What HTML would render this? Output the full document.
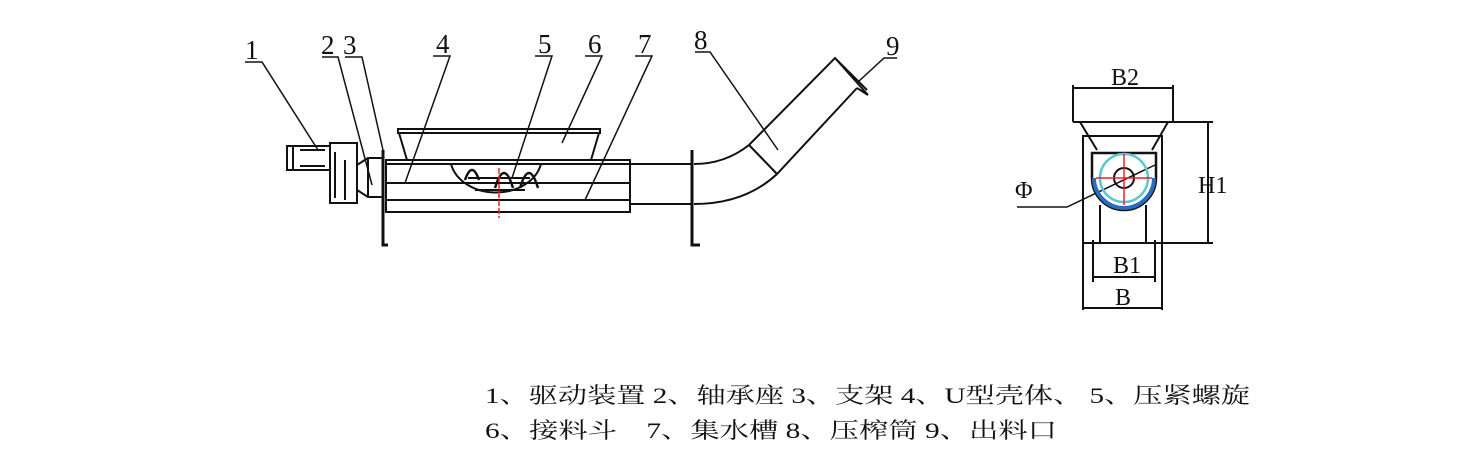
<!DOCTYPE html>
<html><head><meta charset="utf-8"><style>body{margin:0;background:#fff}svg{display:block}</style></head>
<body>
<svg width="1470" height="460" viewBox="0 0 1470 460" xmlns="http://www.w3.org/2000/svg" font-family="Liberation Serif, Noto Serif CJK SC, serif">
<g fill="none" stroke="#111" stroke-width="2">
<!-- motor -->
<rect x="287" y="146" width="43" height="24"/>
<line x1="293" y1="146" x2="293" y2="170"/><line x1="300" y1="150" x2="325" y2="150"/><line x1="300" y1="166" x2="325" y2="166"/>
<rect x="330" y="143" width="27" height="60"/>
<line x1="335" y1="152" x2="335" y2="198"/><line x1="345" y1="160" x2="345" y2="200"/>
<polygon points="357,165 368,158 383,158 383,197 368,197 357,190"/>
<line x1="368" y1="158" x2="368" y2="197"/>
<!-- flange 1 -->
<path d="M383,150 V245 H388" stroke-width="3"/>
<!-- trough -->
<rect x="386" y="160" width="244" height="52"/>
<line x1="386" y1="164" x2="630" y2="164"/>
<line x1="386" y1="183" x2="630" y2="183"/>
<line x1="386" y1="200" x2="630" y2="200"/>
<!-- hopper -->
<rect x="398" y="129" width="202" height="4"/>
<line x1="399" y1="133" x2="407" y2="160"/><line x1="599" y1="133" x2="591" y2="160"/>
<path d="M451,164 A46,36 0 0 0 541,164"/>
<path d="M465,180 q7,-20 14,0 M495,188 q9,-30 18,0 M520,188 q9,-30 18,0" stroke-width="2.5"/>
<line x1="468" y1="178" x2="530" y2="178"/><line x1="475" y1="190" x2="525" y2="190"/>
<!-- pipe -->
<line x1="630" y1="164" x2="692" y2="164"/><line x1="630" y1="204" x2="692" y2="204"/>
<path d="M692,150 V245 H700" stroke-width="3"/>
<path d="M694,164 Q725,164 749,145 L835,58 L867,90 M694,204 Q745,204 777,174 L857,88"/>
<line x1="749" y1="145" x2="777" y2="174"/>
<path d="M835,58 L868,95 L857,88"/>
<!-- leaders -->
<path d="M245,62 H262 L318,150 M322,57 H338 L372,185 M345,57 H362 L383,150 M433,56 H450 L405,183 M535,56 H552 L512,178 M585,56 H602 L562,143 M635,56 H652 L585,200 M695,52 H710 L778,150 M897,58 H884 L858,82" stroke-width="1.5"/>
</g>
<line x1="499" y1="168" x2="499" y2="218" stroke="#e22" stroke-width="1.5" stroke-dasharray="6,2"/>
<g font-size="27" fill="#111">
<text x="245" y="59">1</text><text x="321" y="54">2</text><text x="343" y="54">3</text><text x="436" y="53">4</text><text x="538" y="53">5</text><text x="588" y="53">6</text><text x="638" y="53">7</text><text x="694" y="49">8</text><text x="886" y="55">9</text>
</g>
<!-- side view -->
<g fill="none" stroke="#111" stroke-width="2">
<path d="M1073,85 V122 M1173,85 V122 M1073,88 H1173 M1073,122 H1213"/>
<path d="M1080,122 L1097,150 M1168,122 L1152,150"/>
<path d="M1083,310 V136 H1162 V310"/>
<path d="M1092,153 V178 A32,32 0 0 0 1156,178 V153 Z" stroke-width="2.5"/>
<path d="M1100,205 V243 M1146,205 V243"/>
<path d="M1083,243 H1213 M1208,122 V243 M1093,240 V282 M1155,240 V282 M1093,277 H1155 M1083,308 H1162"/>
<path d="M1017,207 H1067 L1155,165" stroke-width="1.5"/>
</g>
<path d="M1094,178 A30,30 0 0 0 1154,178" fill="none" stroke="#2a6bc0" stroke-width="4"/>
<circle cx="1124" cy="178" r="24" fill="none" stroke="#5cc6d0" stroke-width="2.5"/>
<circle cx="1124" cy="178" r="10" fill="none" stroke="#111" stroke-width="2"/>
<path d="M1096,178 H1152 M1124,154 V205" stroke="#e22" stroke-width="1.5"/>
<g font-size="24" fill="#111">
<text x="1111" y="85">B2</text><text x="1198" y="193">H1</text><text x="1113" y="273">B1</text><text x="1115" y="305">B</text><text x="1015" y="198">Φ</text>
</g>
<g font-size="22" fill="#111" font-family="Liberation Serif, Noto Serif CJK SC, serif">
<text x="485" y="403" textLength="765" lengthAdjust="spacingAndGlyphs">1、驱动装置 2、轴承座 3、支架 4、U型壳体、 5、压紧螺旋</text>
<text x="485" y="438" textLength="572" lengthAdjust="spacingAndGlyphs">6、接料斗　7、集水槽 8、压榨筒 9、出料口</text>
</g>
</svg>
</body></html>
